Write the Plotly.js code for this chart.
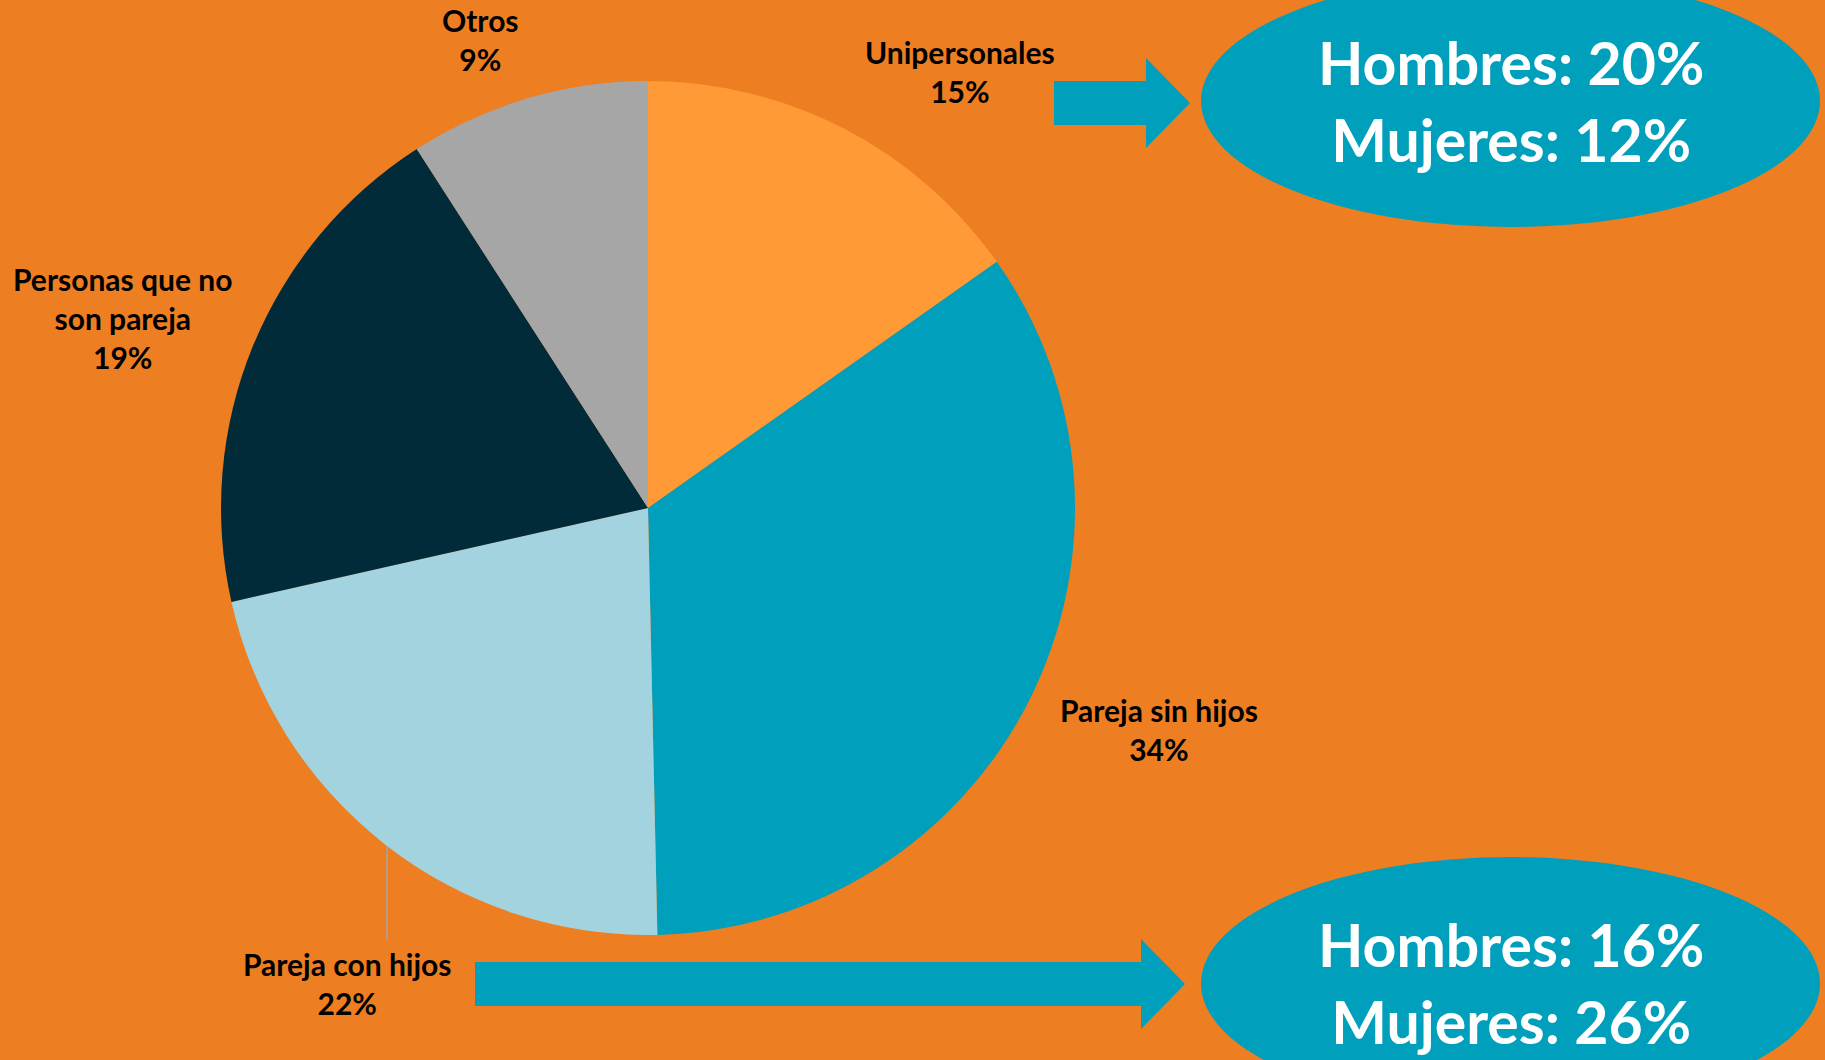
<!DOCTYPE html>
<html>
<head>
<meta charset="utf-8">
<script src="https://cdn.plot.ly/plotly-3.0.1.min.js"></script>
<style>
  html, body { margin: 0; padding: 0; background: #EE7E22; }
  #chart { width: 1825px; height: 1060px; }
</style>
</head>
<body>
<div id="chart"></div>
<script>
// ---- Data ----
const categories = ["Unipersonales", "Pareja sin hijos", "Pareja con hijos", "Personas que no<br>son pareja", "Otros"];
const values = [15.2, 34.4, 21.8, 19.4, 9.1];
const sliceColors = ["#FF9A36", "#009FBC", "#A2D3DE", "#022B3A", "#A6A6A6"];
const calloutUnipersonales = ["Hombres: 20%", "Mujeres: 12%"];
const calloutParejaConHijos = ["Hombres: 16%", "Mujeres: 26%"];

// ---- Layout helpers (pixel -> paper) ----
const W = 1825, H = 1060;
const px = x => x / W;
const py = y => 1 - y / H;

const total = values.reduce((a, b) => a + b, 0);
const pctText = values.map(v => Math.round(v / total * 100) + "%");

// label centre positions (pixels)
const labelPos = [
  [960, 71], [1159, 729], [347, 983], [122, 318], [481, 40]
];

const teal = "#009FBC";
const labelFont = { family: "Lato, 'Open Sans', sans-serif", size: 30, color: "#000000", weight: 700 };
const calloutFont = { family: "Lato, 'Open Sans', sans-serif", size: 59, color: "#FFFFFF", weight: 700 };

const annotations = categories.map((c, i) => ({
  xref: "paper", yref: "paper",
  x: px(labelPos[i][0]), y: py(labelPos[i][1]),
  xanchor: "center", yanchor: "middle",
  text: "<b>" + c + "<br>" + pctText[i] + "</b>",
  showarrow: false, align: "center", font: labelFont
}));

annotations.push({
  xref: "paper", yref: "paper", x: px(1511), y: py(101),
  xanchor: "center", yanchor: "middle", showarrow: false, align: "center",
  text: "<b>" + calloutUnipersonales.join("<br>") + "</b>", font: calloutFont
});
annotations.push({
  xref: "paper", yref: "paper", x: px(1511), y: py(983),
  xanchor: "center", yanchor: "middle", showarrow: false, align: "center",
  text: "<b>" + calloutParejaConHijos.join("<br>") + "</b>", font: calloutFont
});

function arrowPath(x0, x1, yTop, yBot, headX, headTop, headBot, tipX) {
  const yMid = (yTop + yBot) / 2;
  const pts = [[x0, yTop], [headX, yTop], [headX, headTop], [tipX, yMid], [headX, headBot], [headX, yBot], [x0, yBot]];
  return "M " + pts.map(p => px(p[0]) + "," + py(p[1])).join(" L ") + " Z";
}

const shapes = [
  // callout ellipses
  { type: "circle", xref: "paper", yref: "paper", x0: px(1201), x1: px(1820), y0: py(227), y1: py(-25),
    fillcolor: teal, line: { width: 0 }, layer: "below" },
  { type: "circle", xref: "paper", yref: "paper", x0: px(1201), x1: px(1820), y0: py(1110), y1: py(857),
    fillcolor: teal, line: { width: 0 }, layer: "below" },
  // arrows
  { type: "path", xref: "paper", yref: "paper", path: arrowPath(1054, 1146, 81, 125, 1146, 58, 148, 1190),
    fillcolor: teal, line: { width: 0 } },
  { type: "path", xref: "paper", yref: "paper", path: arrowPath(475, 1141, 962, 1006, 1141, 939, 1029, 1185),
    fillcolor: teal, line: { width: 0 } },
  // leader line for Pareja con hijos
  { type: "line", xref: "paper", yref: "paper", x0: px(387), x1: px(387), y0: py(846), y1: py(940),
    line: { color: "#A6A6A6", width: 1.5 } }
];

const trace = {
  type: "pie",
  labels: categories,
  values: values,
  marker: { colors: sliceColors, line: { width: 0 } },
  sort: false,
  direction: "clockwise",
  rotation: 0,
  textinfo: "none",
  hoverinfo: "label+percent",
  showlegend: false,
  domain: { x: [px(221), px(1075)], y: [py(935), py(81)] }
};

const layout = {
  width: W, height: H,
  margin: { l: 0, r: 0, t: 0, b: 0 },
  paper_bgcolor: "#EE7E22",
  plot_bgcolor: "#EE7E22",
  showlegend: false,
  annotations: annotations,
  shapes: shapes
};

Plotly.newPlot("chart", [trace], layout, { displayModeBar: false, staticPlot: true });
</script>
</body>
</html>
